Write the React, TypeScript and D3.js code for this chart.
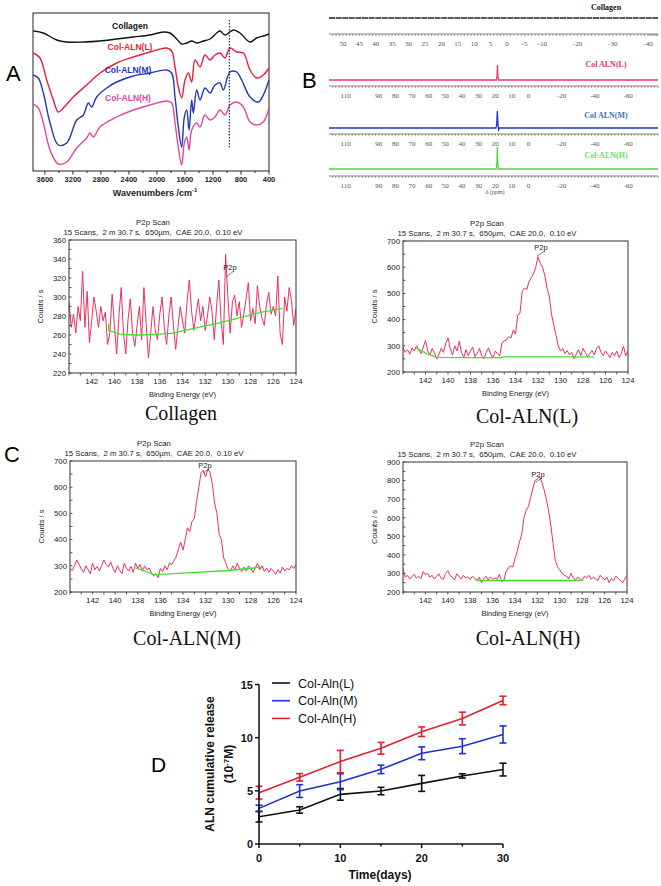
import React from "react";
import * as d3 from "d3";

type P = [number, number];

const SANS = "'Liberation Sans', Arial, sans-serif";
const SERIF = "'Liberation Serif', 'Times New Roman', serif";

// ---------------- Panel A: FTIR (wavenumber, transmittance a.u.) ----------------
const ftirTicks = [3600, 3200, 2800, 2400, 2000, 1600, 1200, 800, 400];
const ftirCollagen: P[] = [[3765,140],[3622,138],[3432,131],[3289,129],[3051,129],[2813,130],[2575,132],[2337,134],[2099,136],[1909,139],[1814,138],[1718,132],[1647,127],[1575,128],[1504,130],[1433,128],[1337,130],[1242,132],[1147,138],[1099,140],[1028,136],[909,141],[814,138],[671,129],[576,133],[481,135],[400,137]];
const ftirL: P[] = [[3765,118],[3670,113],[3575,91],[3480,71],[3408,59],[3337,63],[3194,74],[3004,86],[2813,98],[2575,108],[2337,114],[2099,119],[1861,123],[1790,120],[1742,104],[1695,84],[1647,73],[1599,91],[1551,98],[1504,89],[1456,111],[1385,104],[1314,116],[1242,111],[1171,116],[1099,118],[1028,113],[957,123],[861,119],[766,118],[671,101],[576,93],[481,96],[400,103]];
const ftirM: P[] = [[3765,96],[3694,93],[3622,78],[3527,48],[3408,26],[3289,28],[3146,51],[3051,56],[2980,68],[2932,64],[2861,74],[2718,83],[2575,89],[2337,95],[2099,98],[1861,101],[1790,98],[1742,74],[1695,44],[1647,24],[1609,54],[1575,61],[1542,41],[1504,71],[1480,58],[1433,81],[1385,71],[1314,83],[1242,78],[1171,86],[1099,88],[1052,81],[957,99],[861,99],[790,91],[671,74],[552,69],[481,76],[400,91]];
const ftirH: P[] = [[3765,67],[3694,63],[3622,48],[3527,21],[3408,7],[3289,9],[3146,23],[3004,33],[2956,38],[2908,34],[2813,44],[2575,54],[2337,61],[2099,66],[1861,70],[1790,68],[1742,48],[1695,24],[1647,6],[1609,28],[1575,34],[1542,21],[1504,41],[1433,48],[1385,44],[1314,56],[1242,51],[1171,54],[1099,61],[1028,56],[957,66],[861,69],[766,64],[671,49],[576,46],[481,49],[400,63]];
const ftirMarker = 966;

// ---------------- Panel B: 31P NMR (ppm, relative intensity) ----------------
const nmrColTicks = [50, 45, 40, 35, 30, 25, 20, 15, 10, 5, 0, -5, -10, -20, -30, -40];
const nmrAlnTicks = [110, 90, 80, 70, 60, 50, 40, 30, 20, 10, 0, -20, -40, -60];
const nmrCollagen: P[] = [[54, 0], [-47, 0]];
const nmrL: P[] = [[120, 0], [19.3, 0], [18.9, 0.25], [18.6, 1], [18.3, 0.2], [17.9, 0], [-78, 0]];
const nmrM: P[] = [[120, 0], [19.6, 0], [19.1, 0.15], [18.7, 1], [18.3, 0.2], [17.9, -0.1], [17.4, 0], [-78, 0]];
const nmrH: P[] = [[120, 0], [19.4, 0], [19.0, 0.2], [18.7, 1], [18.4, 0.2], [18.0, 0], [-78, 0]];

// ---------------- Panel C: XPS P2p (counts/s, 144 -> 124 eV, 0.2 eV step) ----------------
const xpsCollagen = [295,268,282,262,290,275,327,268,306,252,275,300,285,268,290,275,284,250,262,303,270,240,280,310,262,240,276,298,262,248,270,290,255,310,272,236,262,290,265,255,282,300,268,250,280,300,270,245,268,290,275,262,295,318,285,265,282,298,275,290,265,280,300,285,255,290,318,275,250,345,300,262,295,302,280,295,268,282,298,315,275,288,272,312,290,278,270,292,305,282,290,280,322,262,250,300,285,310,296,270,288];
const xpsL = [295,275,285,268,292,280,300,285,270,295,320,280,265,290,272,250,268,290,275,310,330,290,265,300,280,318,275,255,285,262,280,295,258,270,290,262,250,275,292,268,255,280,270,262,312,318,322,335,330,360,345,418,425,510,520,515,545,560,575,600,640,615,600,570,520,490,420,380,340,300,280,290,270,282,265,275,250,268,285,262,290,275,258,270,282,265,290,300,275,262,280,268,255,275,262,280,255,270,298,262,280];
const xpsM = [290,282,300,322,305,288,275,300,285,270,310,285,298,280,300,322,305,295,315,290,275,300,282,270,310,290,280,298,275,310,290,305,280,300,285,292,275,262,270,255,290,278,300,285,310,305,320,335,365,390,360,400,445,430,470,480,545,600,655,665,640,670,655,610,540,500,420,400,330,310,285,280,300,285,310,290,278,295,280,300,288,275,292,310,285,300,278,292,275,290,280,268,285,272,295,280,290,285,300,290,305];
const xpsH = [325,280,290,270,282,295,275,285,272,310,295,300,280,290,270,285,298,275,268,300,315,290,280,265,298,285,270,290,275,282,268,285,275,260,280,250,270,285,265,280,270,275,268,295,258,262,310,330,340,335,380,420,470,510,600,640,660,710,760,800,810,820,790,750,700,640,560,460,370,335,320,300,290,285,270,300,275,265,280,270,262,285,275,290,268,280,272,262,290,278,265,280,250,272,260,285,275,262,250,270,290];
const bgCollagen: P[] = [[140.5,272],[140.5,265],[139.5,261],[138,260],[136,261],[134.8,262],[133,267],[131,272],[129,278],[127,284],[125.2,288]];
const bgL: P[] = [[142.8,290],[141.8,268],[141,256],[138,255],[135.3,255],[135,258],[130,258],[127,258]];
const bgM: P[] = [[138.2,292],[137.5,282],[136.6,266],[134,272],[130,282],[127,295]];
const bgH: P[] = [[137.5,268],[137.3,262],[130,262],[128.2,262],[128,270]];
const xpsXTicks = [142, 140, 138, 136, 134, 132, 130, 128, 126, 124];

// ---------------- Panel D: release ----------------
const days = [0, 5, 10, 15, 20, 25, 30];
const relL = [2.57, 3.2, 4.67, 4.98, 5.7, 6.4, 7.0];
const errL = [0.5, 0.3, 0.55, 0.35, 0.75, 0.2, 0.6];
const relM = [3.35, 4.98, 5.86, 7.02, 8.53, 9.2, 10.3];
const errM = [0.3, 0.6, 0.75, 0.4, 0.6, 0.7, 0.8];
const relH = [4.83, 6.27, 7.75, 9.0, 10.56, 11.8, 13.5];
const errH = [0.6, 0.35, 1.05, 0.55, 0.45, 0.6, 0.4];
const relNames = ["Col-Aln(L)", "Col-Aln(M)", "Col-Aln(H)"];

function PanelA() {
  const x = d3.scaleLinear().domain([3770, 400]).range([33, 269]);
  const y = d3.scaleLinear().domain([0, 158]).range([171, 13]);
  const line = d3.line<P>().x(d => x(d[0])).y(d => y(d[1])).curve(d3.curveCatmullRom.alpha(0.5));
  const series: { d: P[]; c: string }[] = [
    { d: ftirCollagen, c: "#111" },
    { d: ftirL, c: "#ee1d3c" },
    { d: ftirM, c: "#2436b8" },
    { d: ftirH, c: "#e0479e" },
  ];
  const minor = d3.range(3600, 399, -200);
  return (
    <g>
      <text x={6} y={81} fontFamily={SANS} fontSize={22}>A</text>
      <rect x={33} y={13} width={236} height={158} fill="none" stroke="#222" strokeWidth={1} />
      {series.map((s, i) => (
        <path key={i} d={line(s.d) || ""} fill="none" stroke={s.c} strokeWidth={1.4} />
      ))}
      <line x1={x(ftirMarker)} x2={x(ftirMarker)} y1={y(151)} y2={y(23)} stroke="#1a2a80" strokeWidth={1.2} strokeDasharray="1.5,1.5" />
      {minor.map(t => (
        <line key={t} x1={x(t)} x2={x(t)} y1={171} y2={t % 400 === 0 ? 174.5 : 173} stroke="#222" />
      ))}
      {ftirTicks.map(t => (
        <text key={t} x={x(t)} y={181.5} fontFamily={SANS} fontSize={7.5} fontWeight="bold" textAnchor="middle" fill="#222">{t}</text>
      ))}
      <text x={155} y={196} fontFamily={SANS} fontSize={9} fontWeight="bold" textAnchor="middle" fill="#222">
        Wavenumbers /cm<tspan dy={-4} fontSize={6}>-1</tspan>
      </text>
      <text x={130} y={29} fontFamily={SANS} fontSize={8.5} fontWeight="bold" textAnchor="middle" fill="#111">Collagen</text>
      <text x={130} y={50} fontFamily={SANS} fontSize={8.5} fontWeight="bold" textAnchor="middle" fill="#ee1d3c">Col-ALN(L)</text>
      <text x={128} y={73} fontFamily={SANS} fontSize={8.5} fontWeight="bold" textAnchor="middle" fill="#2436b8">Col-ALN(M)</text>
      <text x={128} y={101} fontFamily={SANS} fontSize={8.5} fontWeight="bold" textAnchor="middle" fill="#e0479e">Col-ALN(H)</text>
    </g>
  );
}

function NmrAxis({ x, ticks, yAxis, minorStep }: { x: d3.ScaleLinear<number, number>; ticks: number[]; yAxis: number; minorStep: number }) {
  const [d0, d1] = [x.domain()[0], x.domain()[x.domain().length - 1]];
  const minor = d3.range(Math.ceil(d1 / minorStep) * minorStep, d0, minorStep);
  return (
    <g>
      <line x1={329} x2={658} y1={yAxis} y2={yAxis} stroke="#777" strokeWidth={0.9} />
      {minor.map(t => (
        <line key={t} x1={x(t)} x2={x(t)} y1={yAxis} y2={yAxis + 1.8} stroke="#777" strokeWidth={0.8} />
      ))}
      {ticks.map(t => (
        <text key={t} x={x(t)} y={yAxis + 12} fontFamily={SERIF} fontSize={7} textAnchor="middle" fill="#555">{t}</text>
      ))}
    </g>
  );
}

function PanelB() {
  const xc = d3.scaleLinear().domain([54, 50, 0, -40, -47]).range([329, 343, 507, 648, 658]);
  const xa = d3.scaleLinear().domain([120, -78]).range([329, 658]);
  const traces = [
    { d: nmrL, base: 80, top: 65, c: "#ee3a62", label: "Col ALN(L)", lc: "#e8355e", ly: 67, axis: 86 },
    { d: nmrM, base: 128, top: 111, c: "#2235c8", label: "Col ALN(M)", lc: "#3a72aa", ly: 118, axis: 134 },
    { d: nmrH, base: 169, top: 147, c: "#4bd83a", label: "Col-ALN(H)", lc: "#6ddc5a", ly: 158, axis: 176 },
  ];
  const colY = d3.scaleLinear().domain([0, 1]).range([18, 8]);
  const colLine = d3.line<P>().x(d => xc(d[0])).y(d => colY(d[1]));
  return (
    <g>
      <text x={302} y={88} fontFamily={SANS} fontSize={22}>B</text>
      <text x={606} y={10} fontFamily={SERIF} fontSize={8} fontWeight="bold" textAnchor="middle" fill="#111">Collagen</text>
      <path d={colLine(nmrCollagen) || ""} stroke="#222" strokeWidth={1.6} fill="none" strokeDasharray="6,0.6" />
      <NmrAxis x={xc} ticks={nmrColTicks} yAxis={34} minorStep={1} />
      {traces.map((t, i) => {
        const y = d3.scaleLinear().domain([0, 1]).range([t.base, t.top]);
        const ln = d3.line<P>().x(d => xa(d[0])).y(d => y(d[1]));
        return (
          <g key={i}>
            <text x={606} y={t.ly} fontFamily={SERIF} fontSize={8} fontWeight="bold" textAnchor="middle" fill={t.lc}>{t.label}</text>
            <path d={ln(t.d) || ""} stroke={t.c} strokeWidth={1.3} fill="none" />
            <NmrAxis x={xa} ticks={nmrAlnTicks} yAxis={t.axis} minorStep={2} />
          </g>
        );
      })}
      <text x={495} y={194} fontFamily={SERIF} fontSize={6} textAnchor="middle" fill="#555">δ (ppm)</text>
    </g>
  );
}

function XpsPanel({ left, top, right, bottom, yDom, yStep, vals, bg, sample, sampleX, sampleY, peakLabel }: {
  left: number; top: number; right: number; bottom: number; yDom: [number, number]; yStep: number;
  vals: number[]; bg: P[]; sample: string; sampleX: number; sampleY: number; peakLabel: [number, number, number, number];
}) {
  const x = d3.scaleLinear().domain([144, 124]).range([left, right]);
  const y = d3.scaleLinear().domain(yDom).range([bottom, top]);
  const data: P[] = vals.map((v, i) => [144 - i * 0.2, v]);
  const ln = d3.line<P>().x(d => x(d[0])).y(d => y(d[1]));
  const yTicks = d3.range(yDom[0], yDom[1] + 0.1, yStep);
  const yMinor = d3.range(yDom[0], yDom[1] + 0.1, yStep / 2);
  const xMinor = d3.range(124, 144.1, 1);
  const tx = left + 84;
  const [plx, ply, pex, pey] = peakLabel;
  const clipId = `clip-${sample.replace(/[^A-Za-z]/g, "")}`;
  return (
    <g>
      <text x={tx} y={top - 15} fontFamily={SANS} fontSize={7.8} textAnchor="middle" fill="#222">P2p Scan</text>
      <text x={tx} y={top - 5.5} fontFamily={SANS} fontSize={7.8} textAnchor="middle" fill="#222" style={{ whiteSpace: "pre" }}>15 Scans,  2 m 30.7 s,  650µm,  CAE 20.0,  0.10 eV</text>
      <defs>
        <clipPath id={clipId}>
          <rect x={left} y={top} width={right - left} height={bottom - top} />
        </clipPath>
      </defs>
      <g clipPath={`url(#${clipId})`}>
        <path d={ln(data) || ""} fill="none" stroke="#ee2f5e" strokeWidth={1} />
        <path d={ln(bg) || ""} fill="none" stroke="#3fe02a" strokeWidth={1.3} />
      </g>
      <rect x={left} y={top} width={right - left} height={bottom - top} fill="none" stroke="#333" strokeWidth={1} />
      {yMinor.map(t => (
        <line key={t} x1={left} x2={left + 2.5} y1={y(t)} y2={y(t)} stroke="#333" strokeWidth={0.8} />
      ))}
      {yTicks.map(t => (
        <text key={t} x={left - 3} y={y(t) + 2.8} fontFamily={SANS} fontSize={7.8} textAnchor="end" fill="#222">{t}</text>
      ))}
      {xMinor.map(t => (
        <line key={t} x1={x(t)} x2={x(t)} y1={bottom} y2={bottom + 2.5} stroke="#333" strokeWidth={0.8} />
      ))}
      {xpsXTicks.map(t => (
        <text key={t} x={x(t)} y={bottom + 11} fontFamily={SANS} fontSize={7.8} textAnchor="middle" fill="#222">{t}</text>
      ))}
      <text x={(left + right) / 2} y={bottom + 24} fontFamily={SANS} fontSize={7.5} textAnchor="middle" fill="#222">Binding Energy (eV)</text>
      <text transform={`translate(${left - 26},${(top + bottom) / 2}) rotate(-90)`} fontFamily={SANS} fontSize={7.5} textAnchor="middle" fill="#222">Counts / s</text>
      <text x={plx} y={ply} fontFamily={SANS} fontSize={7.5} textAnchor="middle" fill="#222">P2p</text>
      <line x1={plx + 4} y1={ply + 1} x2={pex} y2={pey} stroke="#333" strokeWidth={0.6} />
      <text x={sampleX} y={sampleY} fontFamily={SERIF} fontSize={20} textAnchor="middle" fill="#111">{sample}</text>
    </g>
  );
}

function PanelC() {
  return (
    <g>
      <text x={4} y={462} fontFamily={SANS} fontSize={22}>C</text>
      <XpsPanel left={69} top={240} right={296} bottom={373} yDom={[220, 360]} yStep={20} vals={xpsCollagen} bg={bgCollagen} sample="Collagen" sampleX={181} sampleY={420} peakLabel={[230, 270, 226, 277]} />
      <XpsPanel left={403} top={241} right={628} bottom={372} yDom={[200, 700]} yStep={100} vals={xpsL} bg={bgL} sample="Col-ALN(L)" sampleX={527} sampleY={423} peakLabel={[541, 250, 537, 256]} />
      <XpsPanel left={70} top={461} right={296} bottom={592} yDom={[200, 700]} yStep={100} vals={xpsM} bg={bgM} sample="Col-ALN(M)" sampleX={187} sampleY={645} peakLabel={[205, 468, 203, 473]} />
      <XpsPanel left={403} top={462} right={627} bottom={592} yDom={[200, 900]} yStep={100} vals={xpsH} bg={bgH} sample="Col-ALN(H)" sampleX={528} sampleY={645} peakLabel={[538, 477, 536, 482]} />
    </g>
  );
}

function PanelD() {
  const x = d3.scaleLinear().domain([0, 30]).range([259, 503]);
  const y = d3.scaleLinear().domain([0, 15]).range([844, 684.5]);
  const colors = ["#111111", "#1f2fd0", "#e0212b"];
  const sets = [
    { v: relL, e: errL },
    { v: relM, e: errM },
    { v: relH, e: errH },
  ];
  const line = d3.line<number>().x((_, i) => x(days[i])).y(d => y(d));
  return (
    <g>
      <text x={151} y={772} fontFamily={SANS} fontSize={21}>D</text>
      {sets.map((s, k) => (
        <g key={k}>
          <path d={line(s.v) || ""} fill="none" stroke={colors[k]} strokeWidth={1.6} />
          {s.v.map((v, i) => (
            <g key={i} stroke={colors[k]} strokeWidth={1.6}>
              <line x1={x(days[i])} x2={x(days[i])} y1={y(v - s.e[i])} y2={y(v + s.e[i])} />
              <line x1={x(days[i]) - 3.5} x2={x(days[i]) + 3.5} y1={y(v - s.e[i])} y2={y(v - s.e[i])} />
              <line x1={x(days[i]) - 3.5} x2={x(days[i]) + 3.5} y1={y(v + s.e[i])} y2={y(v + s.e[i])} />
            </g>
          ))}
        </g>
      ))}
      <line x1={x(0)} x2={x(0)} y1={y(0)} y2={y(15)} stroke="#111" strokeWidth={1.5} />
      <line x1={x(0)} x2={x(30)} y1={y(0)} y2={y(0)} stroke="#111" strokeWidth={1.5} />
      {[0, 5, 10, 15].map(t => (
        <g key={t}>
          <line x1={x(0) - 4} x2={x(0)} y1={y(t)} y2={y(t)} stroke="#111" strokeWidth={1.5} />
          <text x={x(0) - 6} y={y(t) + 4} fontFamily={SANS} fontSize={11} fontWeight="bold" textAnchor="end" fill="#111">{t}</text>
        </g>
      ))}
      {[0, 5, 10, 15, 20, 25, 30].map(t => (
        <line key={t} x1={x(t)} x2={x(t)} y1={y(0)} y2={y(0) + (t % 10 === 0 ? 4 : 2.5)} stroke="#111" strokeWidth={1.5} />
      ))}
      {[0, 10, 20, 30].map(t => (
        <text key={t} x={x(t)} y={y(0) + 18} fontFamily={SANS} fontSize={11} fontWeight="bold" textAnchor="middle" fill="#111">{t}</text>
      ))}
      <text x={380} y={879} fontFamily={SANS} fontSize={12} fontWeight="bold" textAnchor="middle" fill="#111">Time(days)</text>
      <text transform={`translate(214,764) rotate(-90)`} fontFamily={SANS} fontSize={12} fontWeight="bold" textAnchor="middle" fill="#111">ALN cumulative release</text>
      <text transform={`translate(233,764) rotate(-90)`} fontFamily={SANS} fontSize={12} fontWeight="bold" textAnchor="middle" fill="#111">
        (10<tspan dy={-4} fontSize={8}>-7</tspan><tspan dy={4}>M)</tspan>
      </text>
      {relNames.map((n, k) => (
        <g key={n}>
          <line x1={272} x2={290} y1={683 + k * 17.7} y2={683 + k * 17.7} stroke={colors[k]} strokeWidth={1.6} />
          <text x={298} y={687.5 + k * 17.7} fontFamily={SANS} fontSize={12.5} fill="#111">{n}</text>
        </g>
      ))}
    </g>
  );
}

export default function App() {
  return (
    <svg width={661} height={886} viewBox="0 0 661 886" style={{ position: "absolute", left: 0, top: 0, background: "#fff" }}>
      <rect x={0} y={0} width={661} height={886} fill="#fff" />
      <PanelA />
      <PanelB />
      <PanelC />
      <PanelD />
    </svg>
  );
}
